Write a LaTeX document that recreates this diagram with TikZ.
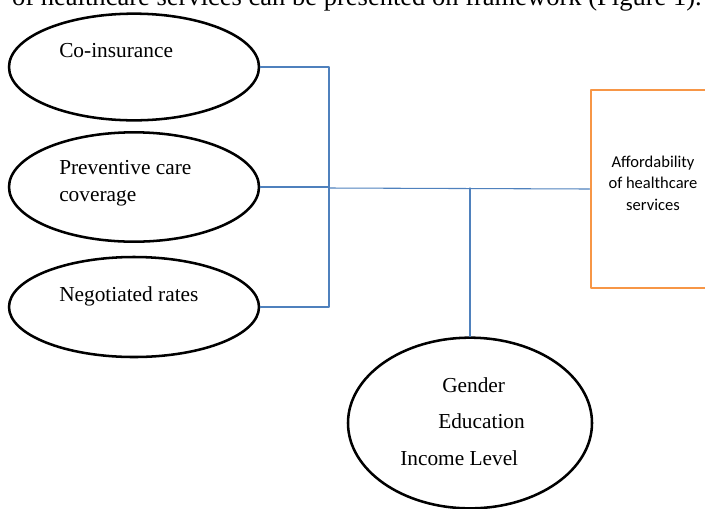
\documentclass[tikz,border=0pt]{standalone}
\usepackage{fontspec}
\setmainfont{Liberation Serif}
\newfontfamily\calfont{Carlito}
\usetikzlibrary{arrows.meta,positioning,shapes.geometric}
\definecolor{linkblue}{HTML}{4F81BD}
\definecolor{outorange}{HTML}{F79646}

\begin{document}
\begin{tikzpicture}[x=0.75pt,y=-0.75pt,line cap=round,line join=round,
  factor/.style={draw=black,line width=1.9pt,ellipse,inner sep=0pt,minimum width=187.5pt},
  ftext/.style={font=\fontsize{16}{19}\selectfont,inner sep=0pt,anchor=base west},
  link/.style={draw=linkblue,line width=.8pt},
  outbox/.style={draw=outorange,line width=2.2pt,minimum width=93pt,minimum height=148.5pt,inner sep=0pt},
  otext/.style={align=center,inner sep=0pt,font=\calfont\fontsize{12.4}{16}\selectfont}]
\path[use as bounding box] (0,0) rectangle (705,508);
\node[ftext,anchor=base east,font=\fontsize{19.9}{23}\selectfont] (lead) at (702,5) {of healthcare services can be presented on framework (Figure 1).};
\node[factor,minimum height=80pt] (coins) at (134,67) {};
\node[factor,minimum height=82pt] (prev) at (134,187) {};
\node[factor,minimum height=75pt] (nego) at (134,307) {};
\node[factor,minimum width=183pt,minimum height=128pt] (demo) at (470,423) {};
\node[outbox] (afford) at (653,189) {};
\node[otext] (affordt) at (653,183) {Affordability\\of healthcare\\services};
\node[ftext] (coinst) at (59,57) {Co-insurance};
\node[ftext] (prevt) at (59,174) {Preventive care};
\node[ftext] (prevt2) at (59,201) {coverage};
\node[ftext] (negot) at (59,301) {Negotiated rates};
\node[ftext] (gend) at (442,392) {Gender};
\node[ftext] (educ) at (438,428) {Education};
\node[ftext] (inc) at (400,465) {Income Level};
\coordinate (hub) at (329,188);
\coordinate (tee) at (470,188);
\draw[link] (coins.east) -| (hub);
\draw[link] (prev.east) -- (prev.east -| hub);
\draw[link] (nego.east) -| (hub);
\draw[link] (hub) -- (afford.west);
\draw[link] (tee) -- (demo.north);
\end{tikzpicture}
\end{document}
